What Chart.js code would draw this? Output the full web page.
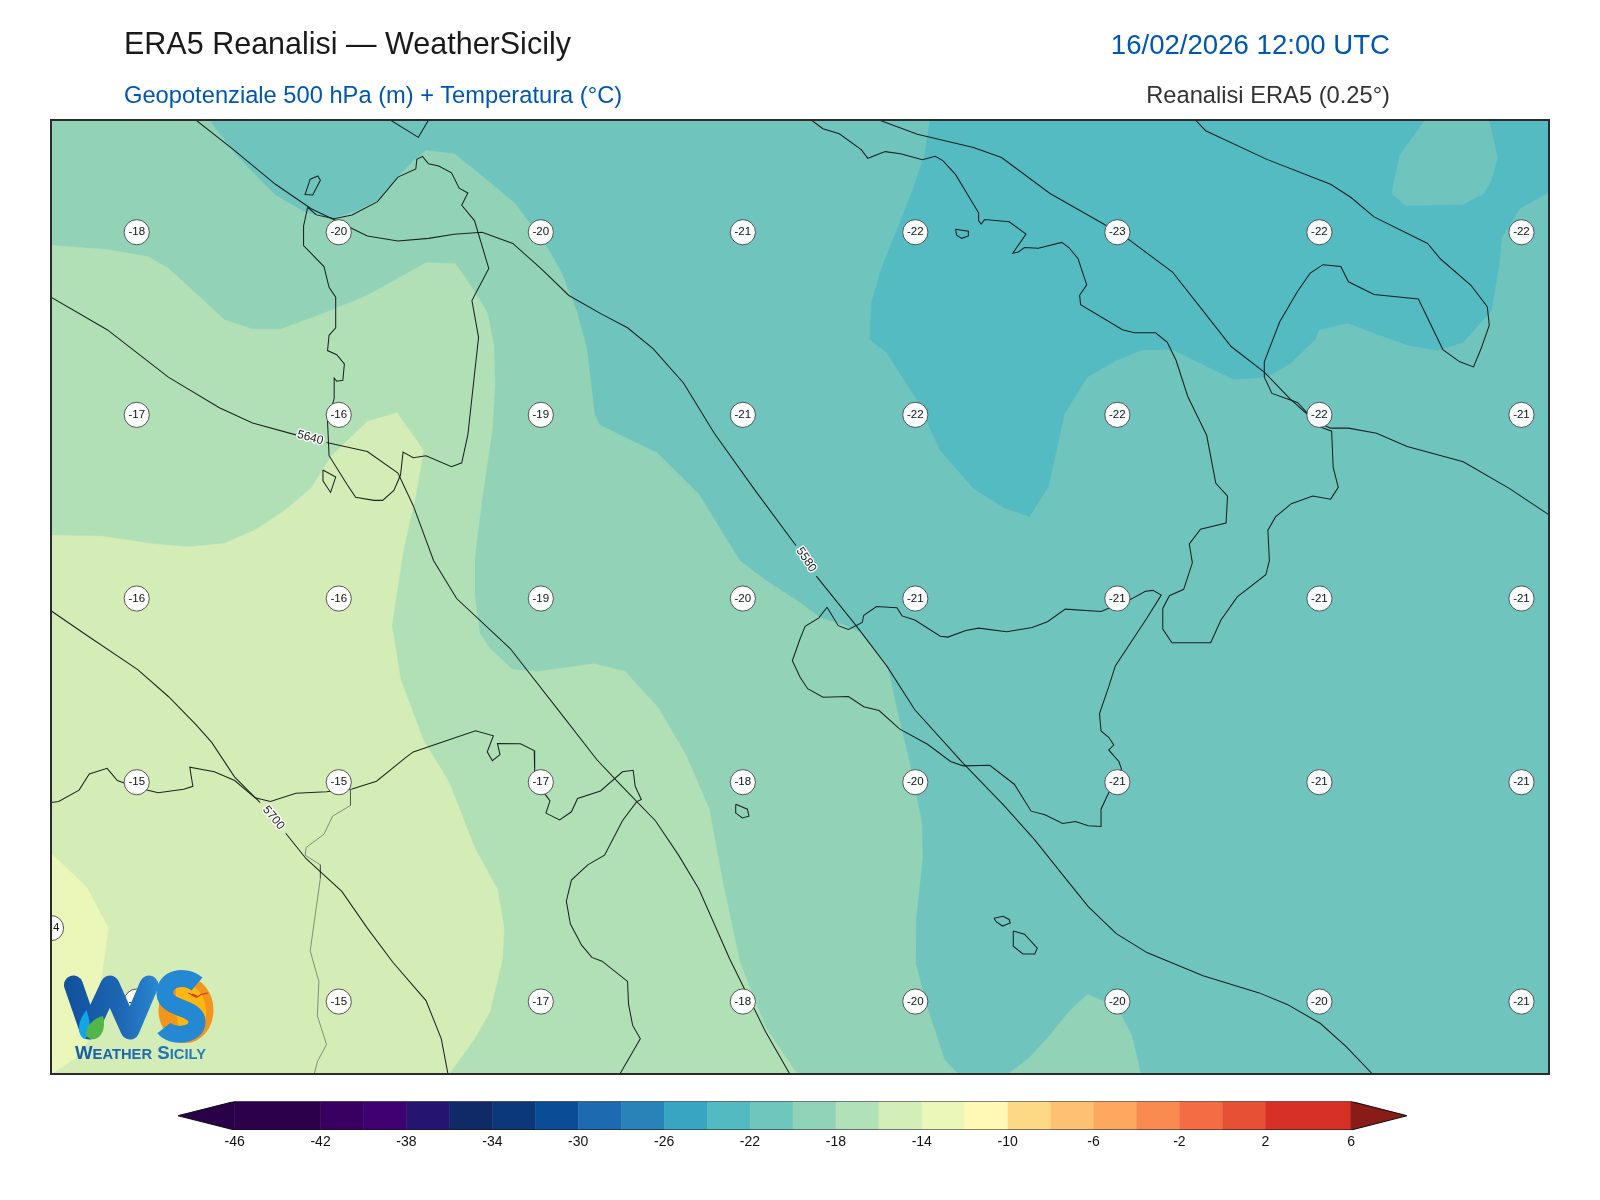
<!DOCTYPE html>
<html lang="it">
<head>
<meta charset="utf-8">
<title>ERA5 Reanalisi — WeatherSicily</title>
<script src="https://cdn.jsdelivr.net/npm/chart.js@4/dist/chart.umd.js"></script>
<style>
html,body{margin:0;padding:0;background:#fff;width:1600px;height:1200px;overflow:hidden;font-family:"Liberation Sans",Arial,sans-serif}
#wrap{position:relative;width:1600px;height:1200px}
canvas{position:absolute;display:block}
#map{left:0;top:0}
#bar{left:0;top:1090px}
.t{position:absolute;white-space:nowrap;line-height:1}
#logo{position:absolute;left:0;top:0;pointer-events:none}
</style>
</head>
<body>
<div id="wrap">
<canvas id="map" width="1600" height="1200"></canvas>
<canvas id="bar" width="1600" height="70"></canvas>
<div class="t" style="left:124px;top:28px;font-size:30.5px;color:#1a1a1a">ERA5 Reanalisi — WeatherSicily</div>
<div class="t" style="left:124px;top:83.5px;font-size:23.7px;color:#0056b3">Geopotenziale 500 hPa (m) + Temperatura (°C)</div>
<div class="t" style="right:210px;top:30.5px;font-size:27.6px;color:#0056b3">16/02/2026 12:00 UTC</div>
<div class="t" style="right:210px;top:83.5px;font-size:23.7px;color:#333">Reanalisi ERA5 (0.25°)</div>
<svg id="logo" width="1600" height="1200" viewBox="0 0 1600 1200">
<defs>
<linearGradient id="wg" gradientUnits="userSpaceOnUse" x1="64" x2="157" y1="0" y2="0"><stop offset="0" stop-color="#10509c"/><stop offset=".6" stop-color="#1d66b4"/><stop offset="1" stop-color="#2a86cf"/></linearGradient>
<linearGradient id="tg" gradientUnits="userSpaceOnUse" x1="75" x2="206" y1="0" y2="0"><stop offset="0" stop-color="#175aa6"/><stop offset="1" stop-color="#2a7fc0"/></linearGradient>
</defs>
<path d="M73.5 985 L89 1030 L110 985 L130 1030 L149 985" fill="none" stroke="url(#wg)" stroke-width="19" stroke-linejoin="round" stroke-linecap="round"/>
<path d="M86.5 1010 C78 1020 76 1034 84 1039 C90 1036 92 1026 86.5 1010Z" fill="#12a5e8"/>
<path d="M86 1034 C86 1026 94 1018 103 1016 C106 1028 102 1037 95 1039 C91 1040 87 1038 86 1034Z" fill="#52b648"/>
<ellipse cx="186" cy="1010" rx="27.5" ry="33" fill="#f2961b"/>
<path d="M176 983 C192 978 208 995 206 1016 C204 1032 190 1040 180 1040 L176 1010Z" fill="#ffb70f"/>
<path d="M197 984 C185 974 164 978 165 994 C166 1010 197 1006 197 1022 C197 1036 172 1038 164 1028" fill="none" stroke="#2489d2" stroke-width="17"/>
<path d="M188.3 993 L196.7 997.3 L201 994.5 L208 993 M192 994 L197 996" fill="none" stroke="#c0392b" stroke-width="1.1"/>
<text x="75" y="1059.3" textLength="131" lengthAdjust="spacingAndGlyphs" font-family="Liberation Sans, Arial, sans-serif" font-weight="700" fill="url(#tg)" font-size="17.7">W<tspan font-size="14">EATHER</tspan> S<tspan font-size="14">ICILY</tspan></text>
</svg>
</div>
<script>
// Map-plane coordinates: [easting, southing] pairs.
const bandMinus22 = [[50,117],[1518,117],[1518,1052],[50,1052]];
const bandMinus24 = [[911.5,117],[906.5,150],[894,187],[879,225],[864,262],[854,296],[852.5,332],[869,345],[898,390],[921.5,441],[954,478],[984,497],[1009,505.5],[1027.5,476],[1043,405],[1065.5,369],[1094,352.5],[1120,342],[1149,342],[1209,371],[1241.5,369],[1264,356],[1289,332],[1292.5,322.5],[1320.5,316],[1379,337.5],[1409,343],[1434,334.5],[1461.5,304],[1469,259],[1471.5,232.5],[1489,204],[1518,187.5],[1518,117]];
const pocketMinus22 = [[1396.5,117],[1371.5,152],[1364,189],[1377.5,201],[1434,199.5],[1454,189],[1461.5,176],[1467.5,154],[1459,117]];
const bandMinus20 = [[50,117],[205,117],[230,150],[270,191],[300,208],[325,214],[350,206],[372.5,195],[390,172.5],[405,157.5],[417.5,147],[445,150],[475,174],[505,199],[535,240],[550,266],[565,304],[575,341],[582.5,405],[587.5,416],[645,444],[685,484],[725,549],[750,568],[784,590],[804,605],[829,612.6],[844,620],[869,650],[881.5,706],[891.5,747.5],[903,804],[904,841],[897.5,901],[897,942.6],[909,987.5],[925.5,1038],[939,1052],[50,1052]];
const pocketMinus20 = [[988,1052],[1009,1036],[1029,1014],[1047.5,991],[1065.5,974],[1094,985.7],[1109,1014],[1118,1052]];
const bandMinus18 = [[50,240],[105,244],[145,251],[165,262.5],[190,285],[220,313],[247.5,322],[275,322],[315,307.5],[360,289],[417.5,257],[446.5,258],[465,285],[477.5,306],[484,337.5],[485,375],[482.5,420],[472.5,487.5],[465,547.5],[465,582.5],[470,620],[480,635],[502.5,655.7],[527.5,657.5],[582.5,650],[612.5,657.5],[645,693],[672.5,740],[695,792.5],[707.5,860],[725,942.5],[750,1006],[781,1052],[50,1052]];
const bandMinus16 = [[50,524],[100,525],[150,532.5],[185,535.5],[220,532],[250,519],[280,499],[305,478],[325,446],[360,412.5],[389,404],[415,440.6],[407.5,484],[395,540],[384,612.5],[392.5,665],[415,725],[440,766],[465,830],[487.5,871],[494,909],[492.5,939],[480,991],[465,1017.5],[440,1052],[50,1052]];
const bandMinus14 = [[50,835.7],[85,869],[106,909],[100,954],[92,985],[86,1020],[73,1037],[50,1052]];

const contour5700a = [[50,598],[85,622],[135,655.7],[165,682],[192.5,710],[207.5,727],[230,761],[255,786]];
const contour5700b = [[280,816],[300,841],[335,873],[360,909],[385,942.5],[417.5,980],[432.5,1017.5],[439,1052]];
const contour5640a = [[50,290.6],[105,322.5],[165,369],[215,399],[247.5,414],[290,425.6]];
const contour5640b = [[320,433],[360,442],[390,463],[405,495],[425,549],[447.5,586],[500,635],[550,699],[585,744],[607.5,768],[642.5,804],[665,837.5],[685,871],[715,939],[750,1010],[774,1052]];
const contour5580a = [[192,117],[230,147],[270,180],[305,204],[330,216],[360,230.6],[390,235.5],[420,233],[445,229],[472.5,227],[502.5,238],[530,262.5],[557.5,289],[590,307.5],[615,320.6],[640,341],[670,375],[700,424],[740,480],[780,534]];
const contour5580b = [[800,564],[839,612.6],[869,652],[896.5,695],[944,747.5],[984,789],[1014,822.5],[1044,860],[1066.5,888],[1094,914.4],[1124,933],[1179,955.7],[1234,972.5],[1261.5,983.8],[1294,1002.5],[1319,1025],[1345,1052]];
const contour5520 = [[861.5,117],[899,131],[954,144],[981.5,153.75],[1029,189],[1079,217.5],[1104,232.5],[1149,266],[1179,304],[1206.5,339],[1239,364],[1264,390],[1289,412.5],[1304,419],[1321.5,419],[1349,424],[1379,437],[1434,452],[1479,478],[1518,504]];

const coastItaly = [[795,117],[806.5,125.6],[822.5,130.5],[844,146],[850.5,154.5],[867.5,148],[882.5,150],[904,156],[916.5,152.6],[924,156.8],[936.5,170.6],[959,208],[959,215.6],[961.5,219],[965,214.5],[989,216.8],[1005.5,228.8],[992.5,247.5],[998,246.4],[1004,242],[1017.5,242.6],[1040.5,237],[1047.5,242],[1056.5,253],[1065,278.6],[1058,288.8],[1059,298],[1100,322.5],[1111.5,325.5],[1132.5,325.5],[1144,335],[1152.5,352.5],[1164,388],[1182.5,426],[1191.5,473],[1203,485.6],[1201.5,512],[1176.5,518],[1165.5,532.5],[1168.5,551],[1160,577],[1146,583.3],[1139.5,595.7],[1139.5,616],[1148.5,629.4],[1186.5,629.4],[1196.5,607],[1212.5,584.4],[1240.5,562.7],[1244,548.8],[1242.5,519],[1250,506],[1265.5,493],[1286.5,485.6],[1304,488.6],[1311.5,477],[1306.5,457.5],[1305,422],[1294,418],[1271.5,393.8],[1246.5,385],[1239,369],[1239,354],[1254,315],[1271.5,285],[1284,267],[1296.5,258.8],[1314,260.6],[1321.5,275.6],[1346.5,288],[1390,292.5],[1414,342],[1430.5,354],[1444,359],[1451.5,341],[1459.5,318],[1457.5,300],[1441.5,279],[1411.5,253],[1399,238],[1346.5,212],[1324,193],[1304,180],[1241.5,155.6],[1181.5,127.5],[1171.5,117]];
const coastSicily = [[810.5,594.5],[802.5,605],[789,613.3],[784,625.7],[776.5,647],[784,663],[791.5,674.4],[806.5,682.7],[831.5,682],[846.5,692],[861.5,695.8],[881.5,713.8],[909,728.8],[931.5,745.7],[944,750],[970,749.4],[994,768],[1010.5,794.4],[1024,798],[1041.5,806.4],[1054,804.5],[1066.5,808.7],[1079,809.4],[1079,792.5],[1086.5,776.4],[1099,753],[1096.5,745.7],[1086.5,734.4],[1091.5,729.6],[1086.5,722],[1079,715.7],[1077.5,698.8],[1086.5,672.6],[1093,652],[1124,605],[1138,582.6],[1130,578],[1122.5,578.8],[1109,586.3],[1079,598.7],[1044,596.4],[1026.5,608.8],[1011.5,614.4],[986.5,618.5],[959,615],[946.5,617.4],[929,623.8],[921.5,623],[896.5,607],[884,603],[879,595],[859,593.8],[846.5,602.4],[845,609.5],[831.5,616.3],[821.5,612.6],[810.5,594.5]];
const coastSardinia = [[301.5,202.5],[297.5,221],[297.5,240],[317.5,260.6],[322.5,281],[329,290.6],[329,320.6],[322.5,328],[321,343],[330,347],[337.5,356],[336,372],[330,373],[327.5,370],[327.5,390],[321,412.5],[322.5,446],[340,474],[348.5,486.8],[366.5,489.8],[375,489.8],[386,480],[392.5,465],[395,442.5],[405,448],[417.5,446],[442.5,456.8],[452.5,453],[458.5,425.6],[469,330],[462.5,294],[479,262.5],[465,215.6],[452.5,200.6],[458.5,188.6],[450,183.8],[442.5,168.8],[430,162],[420,160],[414,152.6],[408.5,155.6],[407.5,165],[390,173],[370,197],[345,210],[327.5,213.8],[310,210],[301.5,202.5]];
const coastCorsica = [[382.5,117],[410,134],[420,117]];
const coastAfrica = [[50,786],[57.5,785],[77.5,773.8],[87.5,758],[105,752.4],[115,764.4],[122.5,767],[145,773.8],[155,776.4],[180,773],[189,770],[186,751.3],[210,755.8],[230,764.4],[250,781.3],[265,785],[290,776.8],[320,775.3],[345,772.7],[369,765],[397.5,742],[405,736.3],[466,715.7],[483.5,720.5],[477.5,736.3],[482.5,745],[490,739],[487.5,728],[510,728.4],[523.5,735],[524,755],[534,777.5],[539,784.3],[535,796.3],[548.5,803],[560,795],[566,782],[588.5,774.6],[610,755.8],[620.5,754.3],[622.5,770],[628.5,783],[624,785],[610,803.8],[592.5,837.6],[576,847],[560,862],[555,882.6],[559,905],[570,925.7],[580,937.7],[590,941.4],[615,961.3],[616,983.8],[620,1004.4],[627.5,1017.5],[607.5,1052]];
const borderTunisia = [[343.5,773.8],[343.5,788.8],[326,799.3],[317.5,817],[300,830],[299,837.6],[314,847],[314,860],[304,931.3],[312.5,961.3],[311,995],[320,1023],[311,1040],[308,1052]];
const isleIschia = [[936.5,224],[949,226],[949,230.6],[942.5,233],[937.5,230],[936.5,224]];
const isleAsinara = [[304,175],[311.5,171.8],[314,176],[306.5,190.5],[299,190],[304,175]];
const isleAntioco = [[316.5,460],[329,467],[324,482],[316.5,470.6],[316.5,460]];
const islePantelleria = [[721,787.7],[732.5,792.5],[734,799.3],[727.5,801],[721,796.3],[721,787.7]];
const isleGozo = [[974,899.4],[983,897.5],[989,900.5],[990,904],[982.5,907],[976.5,903],[974,899.4]];
const isleMalta = [[993,911.8],[1004,915],[1016.5,928.7],[1014,934.3],[1002.5,934.3],[993,926.8],[993,911.8]];

const tempEastings = [134,332,530,728,897,1095,1293,1491];
const tempSouthings = [227,406,586,766,981];
const tempRow1 = [-18,-20,-20,-21,-22,-23,-22,-22];
const tempRow2 = [-17,-16,-19,-21,-22,-22,-22,-21];
const tempRow3 = [-16,-16,-19,-20,-21,-21,-21,-21];
const tempRow4 = [-15,-15,-17,-18,-20,-21,-21,-21];
const tempRow5 = [-14,-15,-17,-18,-20,-20,-20,-21];
const tempEdge = [[50,909,-14]];
const contourLabels = [['5640',304,428.5,15],['5580',790,548,56],['5700',268,801,50]];

const barLevels = [-46,-42,-40,-38,-36,-34,-32,-30,-28,-26,-24,-22,-20,-18,-16,-14,-12,-10,-8,-6,-4,-2,0,2,6];
const barColors = ['#2d004b','#3a0061','#3f0072','#251570','#0f2a66','#0a3878','#0a4c96','#1d6ab0','#2a83b8','#38a6c2','#52bac0','#6fc6bc','#90d3b8','#b0e1b7','#d3eeb8','#ebf7b9','#fff9b5','#fed985','#fec172','#fda75f','#f98b50','#f46c43','#e65035','#d73027'];
const barTicks = [-46,-42,-38,-34,-30,-26,-22,-18,-14,-10,-6,-2,2,6];
const barLow = -48.64, barHigh = 8.6, barLowColor = '#2a0048', barHighColor = '#8a1c18';

const pts = a => a.map(([x,y]) => ({x,y}));
const band = (a,c) => ({data:pts(a),showLine:true,fill:'shape',backgroundColor:c,borderColor:c,borderWidth:0.5,pointRadius:0});
const line = (a,c,w) => ({data:pts(a),showLine:true,fill:false,borderColor:c,borderWidth:w,pointRadius:0});
const ink = 'rgba(15,20,20,0.92)';

const tempPoints = [];
[tempRow1,tempRow2,tempRow3,tempRow4,tempRow5].forEach((row,j)=>row.forEach((v,i)=>tempPoints.push({x:tempEastings[i],y:tempSouthings[j],v})));
tempEdge.forEach(([x,y,v])=>tempPoints.push({x,y,v}));

const layers = [
  band(bandMinus22,'#6fc5bd'),
  band(bandMinus24,'#53bbc1'),
  band(pocketMinus22,'#6fc5bd'),
  band(bandMinus20,'#92d3b8'),
  band(pocketMinus20,'#92d3b8'),
  band(bandMinus18,'#b1e0b7'),
  band(bandMinus16,'#d4edb7'),
  band(bandMinus14,'#eaf7b9'),
  line(borderTunisia,'rgba(70,80,70,0.75)',0.8),
  line(coastItaly,ink,1.05),line(coastSicily,ink,1.05),line(coastSardinia,ink,1.05),line(coastCorsica,ink,1.05),line(coastAfrica,ink,1.05),
  line(isleIschia,ink,1.05),line(isleAsinara,ink,1.05),line(isleAntioco,ink,1.05),line(islePantelleria,ink,1.05),line(isleGozo,ink,1.05),line(isleMalta,ink,1.05),
  line(contour5700a,ink,1.05),line(contour5700b,ink,1.05),line(contour5640a,ink,1.05),line(contour5640b,ink,1.05),line(contour5580a,ink,1.05),line(contour5580b,ink,1.05),line(contour5520,ink,1.05),
  {data:tempPoints,showLine:false,pointRadius:12.6,pointHoverRadius:12.6,pointBackgroundColor:'rgba(255,255,255,0.95)',pointBorderColor:'#444',pointBorderWidth:0.9,clip:0}
];
layers.forEach((d,i)=>{d.order = layers.length-i;});

const mapText = {
  id:'mapText',
  afterDatasetsDraw(chart){
    const {ctx,chartArea:a,scales:{x,y}} = chart;
    ctx.save();
    ctx.beginPath();ctx.rect(a.left,a.top,a.width,a.height);ctx.clip();
    ctx.font='11.5px "Liberation Sans", Arial, sans-serif';
    ctx.textAlign='center';ctx.textBaseline='middle';
    tempPoints.forEach(p=>{ctx.fillStyle='#111';ctx.fillText(String(p.v),x.getPixelForValue(p.x),y.getPixelForValue(p.y));});
    ctx.font='12px "Liberation Sans", Arial, sans-serif';
    contourLabels.forEach(([t,cx,cy,ang])=>{
      ctx.save();
      ctx.translate(x.getPixelForValue(cx),y.getPixelForValue(cy));
      ctx.rotate(ang*Math.PI/180);
      ctx.strokeStyle='#fff';ctx.lineWidth=2.6;ctx.lineJoin='round';ctx.strokeText(t,0,0);
      ctx.fillStyle='#222';ctx.fillText(t,0,0);
      ctx.restore();
    });
    ctx.restore();
    ctx.strokeStyle='#2b2b2b';ctx.lineWidth=2;
    ctx.strokeRect(a.left,a.top,a.width,a.height);
  }
};

new Chart(document.getElementById('map'),{
  type:'scatter',
  data:{datasets:layers},
  options:{
    responsive:false,animation:false,devicePixelRatio:1,
    layout:{padding:{left:51,right:51,top:120,bottom:126}},
    plugins:{legend:{display:false},title:{display:false},tooltip:{enabled:false}},
    events:[],
    scales:{
      x:{type:'linear',min:50,max:1518,display:false},
      y:{type:'linear',min:117,max:1052,reverse:true,display:false}
    }
  },
  plugins:[mapText]
});

const barSets = [];
barColors.forEach((c,i)=>{
  const lo=barLevels[i],hi=barLevels[i+1];
  const d=band([[lo,0],[hi,0],[hi,1],[lo,1]],c);
  d.borderWidth=0.8;
  barSets.push(d);
});
barSets.push(band([[barLow,0.5],[barLevels[0],1],[barLevels[0],0]],barLowColor));
barSets.push(band([[barHigh,0.5],[barLevels[barLevels.length-1],1],[barLevels[barLevels.length-1],0]],barHighColor));
const first=barLevels[0],last=barLevels[barLevels.length-1];
barSets.push(line([[barLow,0.5],[first,1],[last,1],[barHigh,0.5],[last,0],[first,0],[barLow,0.5]],'#111',1.1));
barSets.forEach((d,i)=>{d.order=barSets.length-i;});

new Chart(document.getElementById('bar'),{
  type:'scatter',
  data:{datasets:barSets},
  options:{
    responsive:false,animation:false,devicePixelRatio:1,events:[],
    layout:{padding:{left:178,right:193,top:11.5,bottom:0}},
    plugins:{legend:{display:false},tooltip:{enabled:false}},
    scales:{
      x:{type:'linear',min:barLow,max:barHigh,
        afterBuildTicks:ax=>{ax.ticks=barTicks.map(value=>({value}));},
        afterFit:ax=>{ax.height=30;},
        grid:{display:false,drawTicks:false},border:{display:false},
        ticks:{autoSkip:false,maxRotation:0,padding:4,color:'#111',font:{family:'"Liberation Sans", Arial, sans-serif',size:14}}},
      y:{type:'linear',min:0,max:1,display:false}
    }
  }
});
</script>
</body>
</html>
